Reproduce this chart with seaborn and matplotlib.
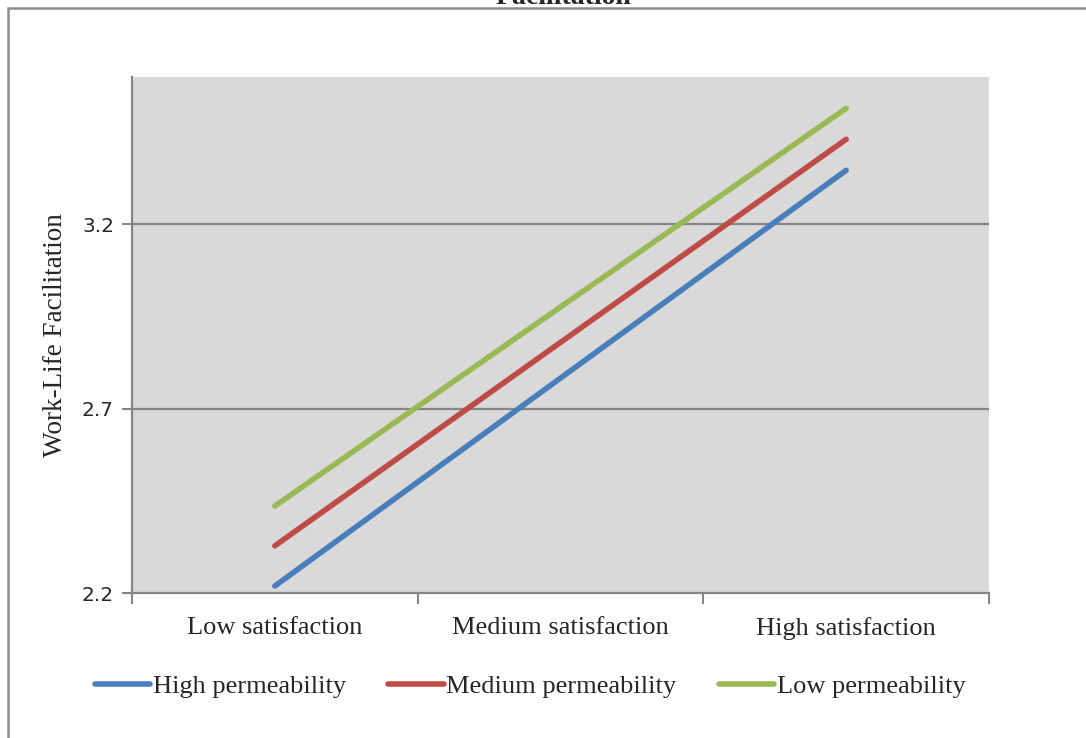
import matplotlib
matplotlib.use("Agg")
import matplotlib.pyplot as plt
from matplotlib.lines import Line2D
from matplotlib.patches import Rectangle
from matplotlib.ticker import FixedLocator
import seaborn as sns
import pandas as pd

# Simple slopes: predicted work-life facilitation by satisfaction level,
# one line per boundary-permeability level
satisfaction = ["Low satisfaction", "Medium satisfaction", "High satisfaction"]
permeability = ["High permeability", "Medium permeability", "Low permeability"]
high_perm = [2.219, 2.783, 3.347]
medium_perm = [2.328, 2.880, 3.431]
low_perm = [2.436, 2.976, 3.515]
y_ticks = [2.2, 2.7, 3.2]
colors = ["#4A7EBB", "#BE4B48", "#98B954"]

rows = []
for name, vals in zip(permeability, [high_perm, medium_perm, low_perm]):
    for cat, v in zip(satisfaction, vals):
        rows.append({"Satisfaction": cat, "Permeability": name, "WLF": v})
df = pd.DataFrame(rows)

sns.set_theme(style="white")
plt.rcParams["font.family"] = ["Liberation Serif", "DejaVu Serif"]

fig = plt.figure(figsize=(10.86, 7.38), dpi=100)
ax = fig.add_axes([132 / 1086, 1 - 593 / 738, (989 - 132) / 1086, (593 - 77) / 738])
ax.set_facecolor("#D9D9D9")

sns.lineplot(
    data=df, x="Satisfaction", y="WLF", hue="Permeability",
    hue_order=permeability, palette=colors, linewidth=4.0,
    sort=False, legend=False, ax=ax, zorder=3,
)
for ln in ax.get_lines():
    ln.set_solid_capstyle("round")

ax.set_xlim(-0.5, 2.5)
ax.set_ylim(2.2, 3.6)

# gridlines and axes styling
ax.set_yticks(y_ticks)
ax.set_yticklabels([f"{t:.1f}" for t in y_ticks], family="DejaVu Sans", fontsize=14.5)
for t in y_ticks[1:]:
    ax.axhline(t, color="#868686", linewidth=1.6, zorder=1)
ax.tick_params(axis="y", direction="out", length=7, width=1.5, color="#868686",
               left=True, pad=6)

ax.set_xticks(range(len(satisfaction)))
ax.set_xticklabels(satisfaction, fontsize=19)
ax.xaxis.set_minor_locator(FixedLocator([-0.5, 0.5, 1.5, 2.5]))
ax.tick_params(axis="x", which="major", length=0, pad=17)
ax.tick_params(axis="x", which="minor", direction="out", length=8, width=1.5,
               color="#868686", bottom=True)
ax.set_xlabel("")
ax.set_ylabel("Work-Life Facilitation", fontsize=19.5, labelpad=10)

for side in ["top", "right"]:
    ax.spines[side].set_visible(False)
for side in ["left", "bottom"]:
    ax.spines[side].set_color("#868686")
    ax.spines[side].set_linewidth(1.6)

handles = [Line2D([0], [0], color=c, linewidth=4.0, solid_capstyle="round")
           for c in colors]
fig.legend(handles, permeability, loc="center", ncol=3,
           bbox_to_anchor=(530 / 1086, 1 - 686 / 738), frameon=False,
           fontsize=19, handlelength=2.1, handletextpad=0.1, columnspacing=1.6)

# chart-area border and the title sitting above it
fig.patches.append(Rectangle((8 / 1086, -0.05), 1.2, 1 - 7.5 / 738 + 0.05,
                             transform=fig.transFigure, fill=False,
                             edgecolor="#8C8C8C", linewidth=1.8, zorder=0))
fig.text(563 / 1086, 1 - 4 / 738, "Facilitation", ha="center", va="baseline",
         fontsize=20, fontweight="bold")

fig.savefig("out.png", dpi=100)
